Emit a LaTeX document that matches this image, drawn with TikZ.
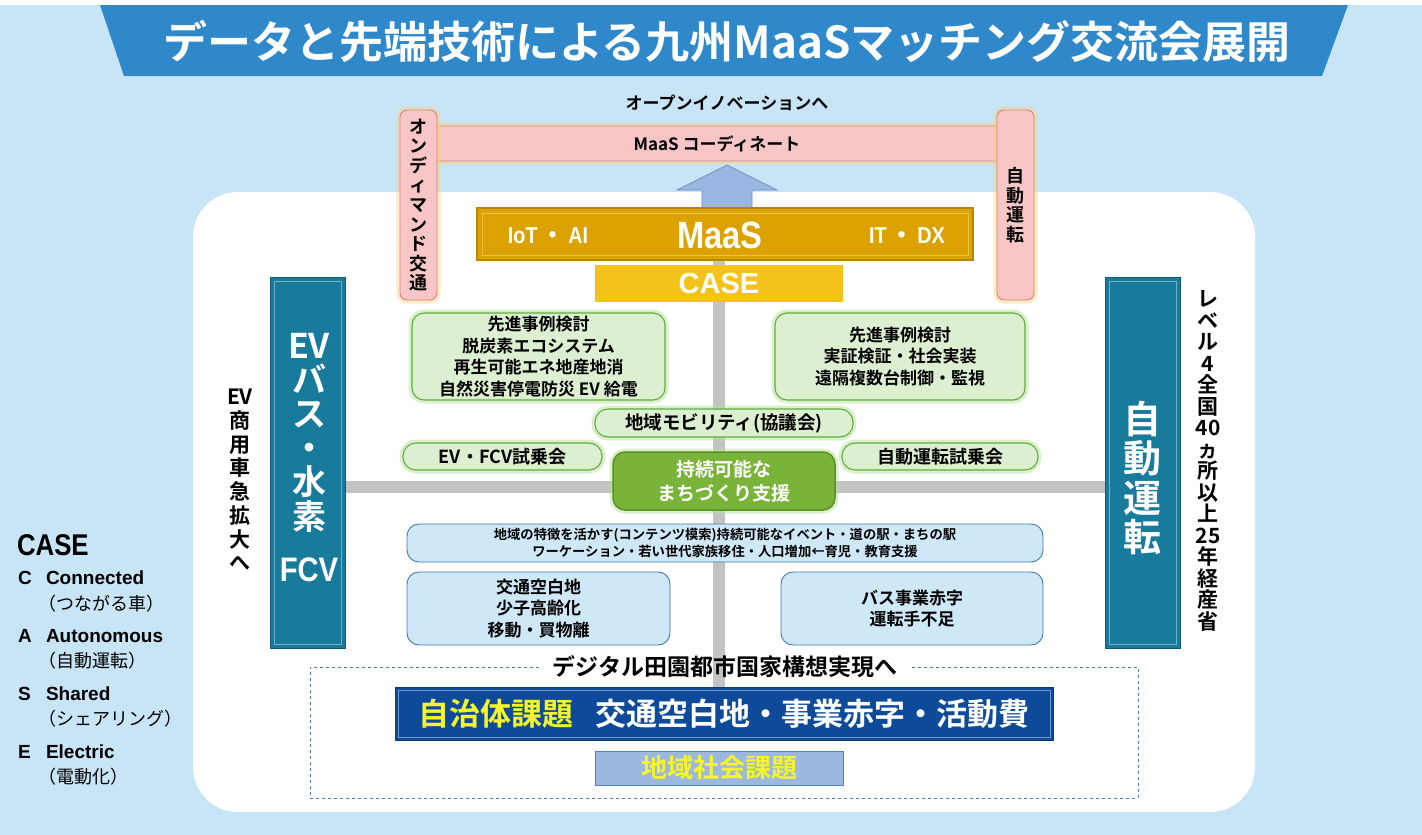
\documentclass[tikz,border=0pt]{standalone}
\usepackage{fontspec}
\setmainfont{Noto Sans CJK JP}[BoldFont={Noto Sans CJK JP Bold}]
\newfontfamily\jpb{Noto Sans CJK JP Bold}
\newfontfamily\arialb{Liberation Sans}
\newfontfamily\arialn{Liberation Sans}[FakeStretch=0.86]
\newcommand\fsz[2]{\fontsize{#1}{#2}\selectfont}
\definecolor{bgblue}{HTML}{C8E5F7}
\definecolor{banner}{HTML}{2E88CA}
\definecolor{pinkfill}{HTML}{F8C6C6}
\definecolor{pinkline}{HTML}{E07E7E}
\definecolor{glowy}{HTML}{F5D77A}
\definecolor{arrowfill}{HTML}{9AB7E1}
\definecolor{arrowline}{HTML}{6D92C6}
\definecolor{gold}{HTML}{DCA300}
\definecolor{golddark}{HTML}{B88600}
\definecolor{goldlight}{HTML}{F0C040}
\definecolor{caseyellow}{HTML}{F3C31C}
\definecolor{tealfill}{HTML}{187B9B}
\definecolor{tealdark}{HTML}{0F5E78}
\definecolor{teallight}{HTML}{6FB3C9}
\definecolor{greenfill}{HTML}{DDEFD1}
\definecolor{greenline}{HTML}{5FAE3E}
\definecolor{greenglow}{HTML}{B8E09A}
\definecolor{susgreen}{HTML}{7AB33A}
\definecolor{susdark}{HTML}{5A9126}
\definecolor{bluefill}{HTML}{CFE8F8}
\definecolor{blueline}{HTML}{3F78AB}
\definecolor{navy}{HTML}{0D4B9A}
\definecolor{navylight}{HTML}{6F95CF}
\definecolor{chiikifill}{HTML}{9CB7E0}
\definecolor{chiikiline}{HTML}{4F80BE}
\definecolor{yel}{HTML}{F5F52A}
\definecolor{linegray}{HTML}{C3C3C3}
\definecolor{dashcol}{HTML}{4E7FAA}
\pgfdeclarelayer{back}
\pgfdeclarelayer{mid}
\pgfsetlayers{back,mid,main}
\begin{document}
\begin{tikzpicture}[x=1pt,y=-1pt,
  every node/.style={inner sep=0pt,outer sep=0pt},
  wh/.style 2 args={minimum width=#1,minimum height=#2},
  pinkbox/.style={draw=pinkline,fill=pinkfill,line width=0.9pt,rounded corners=7,
    preaction={draw=glowy,line width=7pt,opacity=0.45}},
  greenbox/.style={draw=greenline,fill=greenfill,line width=1.1pt,rounded corners=12,
    preaction={draw=greenglow,line width=7pt,opacity=0.5}},
  susbox/.style={draw=susdark,fill=susgreen,line width=1.5pt,rounded corners=12,
    preaction={draw=greenglow,line width=7pt,opacity=0.5}},
  bluebox/.style={draw=blueline,fill=bluefill,line width=0.9pt,rounded corners=12},
  tealbox/.style={fill=tealfill,draw=tealdark,line width=1pt},
  tealin/.style={draw=teallight,line width=0.9pt},
  grayline/.style={draw=linegray,line width=12pt},
  dashline/.style={draw=dashcol,dashed,line width=0.8pt},
  legw/.style={anchor=west,font=\arialb\bfseries\fsz{19}{20}},
  legj/.style={anchor=west,font=\fsz{18}{20}},
]
\useasboundingbox (0,0) rectangle (1422,835);
\begin{pgfonlayer}{back}
\fill[bgblue] (0,0) rectangle (1422,835);
\fill[white] (0,0) rectangle (1422,5);
\fill[white,rounded corners=45] (193,192) rectangle (1255,812);
\fill[banner] (100,5) -- (1348,5) -- (1322,76) -- (124,76) -- cycle;
\end{pgfonlayer}

% title
\node[font=\fsz{44}{50}\bfseries,text=white] (title) at (727,41) {データと先端技術による九州MaaSマッチング交流会展開};

% top pink frame
\node[font=\fsz{17}{20}\bfseries] (open) at (727,103) {オープンイノベーションへ};
\node[pinkbox,wh={574}{35},font=\fsz{17}{20}\bfseries] (coord) at (717,143.5) {MaaS コーディネート};
\node[pinkbox,wh={37}{190},align=center,font=\fsz{18}{19.6}\bfseries] (ondemand) at (418.5,205) {オ\\ン\\デ\\ィ\\マ\\ン\\ド\\交\\通};
\node[pinkbox,wh={37}{190},align=center,font=\fsz{18}{19.6}\bfseries] (auto1) at (1015.5,205) {自\\動\\運\\転};

% up arrow
\draw[fill=arrowfill,draw=arrowline,line width=0.8pt] (727,165) -- (777,190) -- (752,190) -- (752,208) -- (702,208) -- (702,190) -- (677,190) -- cycle;

% MaaS bar
\node[fill=gold,draw=golddark,line width=1.2pt,wh={496}{52}] (maas) at (725,234) {};
\draw[draw=goldlight,line width=0.8pt] ([shift={(5,5)}]maas.north west) rectangle ([shift={(-5,-5)}]maas.south east);
\node[text=white,font=\arialn\bfseries\fsz{23}{24}] (iot) at (548,236) {IoT\,{\jpb ・}\,AI};
\node[text=white,font=\arialn\bfseries\fsz{38}{40}] (maastext) at (720,235) {MaaS};
\node[text=white,font=\arialn\bfseries\fsz{23}{24}] (itdx) at (907,236) {IT\,{\jpb ・}\,DX};

% CASE
\node[fill=caseyellow,wh={248}{37},text=white,font=\arialb\bfseries\fsz{29}{30}] (case) at (719,283.5) {CASE};

% teal columns
\node[tealbox,wh={75}{371}] (evcol) at (307.5,462.5) {};
\draw[tealin] ([shift={(4,4)}]evcol.north west) rectangle ([shift={(-4,-4)}]evcol.south east);
\node[text=white,align=center,font=\fsz{34}{34.2}\bfseries] (evtext) at (309,432.5) {EV\\バ\\ス\\・\\水\\素};
\node[text=white,font=\arialn\bfseries\fsz{34}{34}] (fcv) at (309,570) {FCV};

\node[tealbox,wh={75}{371}] (adcol) at (1142.5,462.5) {};
\draw[tealin] ([shift={(4,4)}]adcol.north west) rectangle ([shift={(-4,-4)}]adcol.south east);
\node[text=white,align=center,font=\fsz{38}{39.3}\bfseries] (adtext) at (1142.5,478) {自\\動\\運\\転};

% side texts
\node[align=center,font=\fsz{21}{23.7}\bfseries] (evside) at (240,480) {EV\\商\\用\\車\\急\\拡\\大\\へ};
\node[align=center,font=\fsz{21}{21.5}\bfseries] (lvside) at (1208,461) {レ\\ベ\\ル\\4\\全\\国\\40\\ヵ\\所\\以\\上\\25\\年\\経\\産\\省};

% green boxes
\node[greenbox,wh={253}{87},align=center,font=\fsz{17}{21.4}\bfseries] (g1) at (538.5,356.5) {先進事例検討\\脱炭素エコシステム\\再生可能エネ地産地消\\自然災害停電防災 EV 給電};
\node[greenbox,wh={250}{87},align=center,font=\fsz{17}{21.4}\bfseries] (g2) at (900,356.5) {先進事例検討\\実証検証・社会実装\\遠隔複数台制御・監視};
\node[greenbox,rounded corners=13,wh={258}{28},font=\fsz{18.5}{20}\bfseries] (mob) at (724,423) {地域モビリティ(協議会)};
\node[greenbox,rounded corners=13,wh={199}{27},font=\fsz{18}{20}\bfseries] (evfcv) at (502.5,456.5) {EV・FCV試乗会};
\node[greenbox,rounded corners=13,wh={196}{27},font=\fsz{18}{20}\bfseries] (adtrial) at (940,456.5) {自動運転試乗会};
\node[susbox,wh={222}{58},align=center,text=white,font=\fsz{19}{24}\bfseries] (sus) at (724,481) {持続可能な\\まちづくり支援};

% blue boxes
\node[bluebox,wh={636}{38},align=center,font=\fsz{13.3}{17}\bfseries] (long) at (725,543) {地域の特徴を活かす(コンテンツ模索)持続可能なイベント・道の駅・まちの駅\\ワーケーション・若い世代家族移住・人口増加←育児・教育支援};
\node[bluebox,wh={263}{73},align=center,font=\fsz{17}{21.5}\bfseries] (b1) at (538.5,608.5) {交通空白地\\少子高齢化\\移動・買物離};
\node[bluebox,wh={262}{73},align=center,font=\fsz{17}{21.5}\bfseries] (b2) at (912,608.5) {バス事業赤字\\運転手不足};

% dashed area
\node[font=\fsz{23}{25}\bfseries,inner xsep=14pt] (dlabel) at (725,667) {デジタル田園都市国家構想実現へ};
\draw[dashline] (dlabel.west) -- (310,667) -- (310,798) -- (1138,798) -- (1138,667) -- (dlabel.east);
\node[fill=navy,draw=navy!80!black,line width=1pt,wh={658}{53},font=\fsz{31}{33}\bfseries] (jichitai) at (724,713.5) {\textcolor{yel}{自治体課題}\hspace{22pt}\textcolor{white}{交通空白地・事業赤字・活動費}};
\draw[draw=navylight,line width=0.8pt] ([shift={(3,3)}]jichitai.north west) rectangle ([shift={(-3,-3)}]jichitai.south east);
\node[fill=chiikifill,draw=chiikiline,line width=1pt,wh={248}{34},text=yel,font=\fsz{26}{28}\bfseries] (chiiki) at (719,768) {地域社会課題};

% gray cross lines
\coordinate (hy) at (720,487);
\begin{pgfonlayer}{mid}
\draw[grayline] (maas.south -| case.north) -- (case.north |- jichitai.north);
\draw[grayline] (evcol.east |- hy) -- (adcol.west |- hy);
\end{pgfonlayer}

% legend
\node[anchor=west,font=\arialn\bfseries\fsz{30}{30}] (lcase) at (17,545) {CASE};
\node[legw] (lc) at (18,578) {C};
\node[legw] (lcw) at (46,578) {Connected};
\node[legj] (lcj) at (38,604) {（つながる車）};
\node[legw] (la) at (18,636) {A};
\node[legw] (law) at (46,636) {Autonomous};
\node[legj] (laj) at (38,661) {（自動運転）};
\node[legw] (ls) at (18,694) {S};
\node[legw] (lsw) at (46,694) {Shared};
\node[legj] (lsj) at (38,719) {（シェアリング）};
\node[legw] (le) at (18,752) {E};
\node[legw] (lew) at (46,752) {Electric};
\node[legj] (lej) at (38,777) {（電動化）};
\end{tikzpicture}
\end{document}
